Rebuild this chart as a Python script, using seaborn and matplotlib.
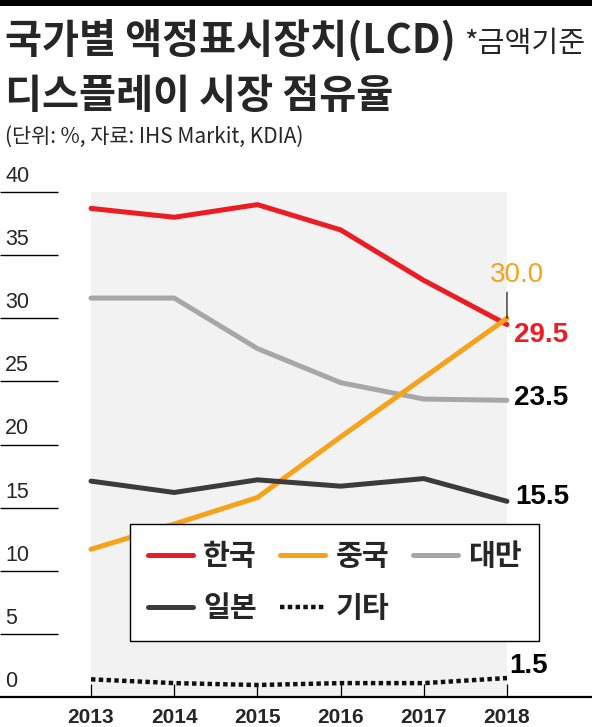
import matplotlib
matplotlib.use("Agg")
import matplotlib.pyplot as plt
import seaborn as sns
import numpy as np

sns.set_style("white")
plt.rcParams['font.family'] = ['Noto Sans CJK KR', 'DejaVu Sans']

# data
years = [2013, 2014, 2015, 2016, 2017, 2018]
korea = [38.7, 38.0, 39.0, 37.0, 33.0, 29.5]
china = [11.7, 13.7, 15.8, 20.6, 25.3, 30.0]
taiwan = [31.6, 31.6, 27.6, 24.9, 23.6, 23.5]
japan = [17.1, 16.2, 17.2, 16.7, 17.3, 15.5]
other = [1.4, 1.1, 0.95, 1.1, 1.1, 1.5]
series_names = ["한국", "중국", "대만", "일본", "기타"]
end_labels = ["29.5", "30.0", "23.5", "15.5", "1.5"]
yticks = [0, 5, 10, 15, 20, 25, 30, 35, 40]

colors = {"한국": "#ec1c24", "중국": "#f7a21b", "대만": "#a7a7a7",
          "일본": "#3b3b3b", "기타": "#111111"}
num_font = ['Liberation Sans', 'DejaVu Sans']

W, H = 592, 727
fig = plt.figure(figsize=(W / 100, H / 100), dpi=100)

# axes geometry in pixels: 2013 at x=91, 2018 at x=507, 0 at y=697, 40 at y=192
px_year = (507 - 91) / 5
px_unit = (697 - 192) / 40
top_px = 160
ax = fig.add_axes([0, 1 - 697 / H, 1, (697 - top_px) / H])
ax.set_xlim(2013 - 91 / px_year, 2018 + (W - 507) / px_year)
ax.set_ylim(0, (697 - top_px) / px_unit)

# shaded panel
ax.fill_between([years[0], years[-1]], 0, 40, color="#f2f2f2", lw=0, zorder=0)

data = [korea, china, taiwan, japan, other]
lines = {}
for name, vals in zip(series_names, data):
    sns.lineplot(x=years, y=vals, color=colors[name], lw=3.6, ax=ax,
                 label=name, zorder=3 if name != "대만" else 2)
    ln = ax.get_lines()[-1]
    ln.set_solid_capstyle("round")
    if name == "기타":
        ln.set_linestyle((0, (1, 0.75)))
        ln.set_dash_capstyle("butt")
        ln.set_linewidth(3.2)
    lines[name] = ln

# end labels
offsets = {"한국": (7, -10, "left", "#ec1c24"),
           "중국": (10, 43, "center", "#f7a21b"),
           "대만": (7, 2, "left", "black"),
           "일본": (8, 4, "left", "black"),
           "기타": (2, 12, "left", "black")}
for name, vals, lab in zip(series_names, data, end_labels):
    dx, dy, ha, c = offsets[name]
    ax.annotate(lab, (years[-1], vals[-1]), xytext=(dx, dy),
                textcoords="offset pixels", ha=ha, va="center",
                color=c, fontsize=20, family=num_font,
                weight="normal" if name == "중국" else "bold", zorder=5)
# leader for 30.0
ax.annotate("", (years[-1], china[-1]), xytext=(0, 26), textcoords="offset pixels",
            arrowprops=dict(arrowstyle="-", color="black", lw=0.8, shrinkA=0, shrinkB=0))

# y tick labels and short tick lines
ax.hlines(yticks[1:], 0, 58 / W, color="black", lw=1.0,
          transform=ax.get_yaxis_transform())
for t in yticks:
    ax.annotate(str(t), (5 / W, t), xycoords=ax.get_yaxis_transform(),
                xytext=(0, 5), textcoords="offset pixels", ha="left",
                va="bottom", fontsize=15.5, family=num_font)
ax.set_yticks([])

# x axis
ax.set_xticks(years)
ax.set_xticklabels([str(y) for y in years], family=num_font, fontsize=15,
                   weight="bold")
ax.tick_params(axis="x", direction="in", length=9.5, width=0.9, color="black",
               pad=8, bottom=True)
for s in ["top", "left", "right"]:
    ax.spines[s].set_visible(False)
ax.spines["bottom"].set_color("black")
ax.spines["bottom"].set_linewidth(1.6)

# legend, rows: 한국 중국 대만 / 일본 기타
order = ["한국", "일본", "중국", "기타", "대만"]
leg = ax.legend([lines[n] for n in order], order, ncol=3, loc="upper left",
                bbox_to_anchor=(130 / W, 1 - 524 / H), bbox_transform=fig.transFigure,
                frameon=True, fancybox=False, framealpha=1, edgecolor="black",
                prop=dict(family=['Noto Sans CJK KR', 'DejaVu Sans'], weight="bold", size=21),
                handlelength=1.55, handletextpad=0.35, columnspacing=0.8,
                labelspacing=0.75, borderpad=0.6, borderaxespad=0)
leg.get_frame().set_linewidth(1.0)
leg.set_zorder(6)

# titles
fig.add_artist(plt.Rectangle((0, 1 - 6 / H), 1, 6 / H, transform=fig.transFigure,
                             facecolor="black", edgecolor="none", zorder=10))
fig.text(5 / W, 1 - 41 / H, "국가별 액정표시장치(LCD)", fontsize=29, weight="heavy",
         va="center", ha="left")
fig.text(464 / W, 1 - 44 / H, "*금액기준", fontsize=21, va="center", ha="left")
fig.text(5 / W, 1 - 97 / H, "디스플레이 시장 점유율", fontsize=29, weight="heavy",
         va="center", ha="left")
fig.text(5 / W, 1 - 137 / H, "(단위: %, 자료: IHS Markit, KDIA)", fontsize=15,
         va="center", ha="left")

fig.savefig("out.png", dpi=100)
